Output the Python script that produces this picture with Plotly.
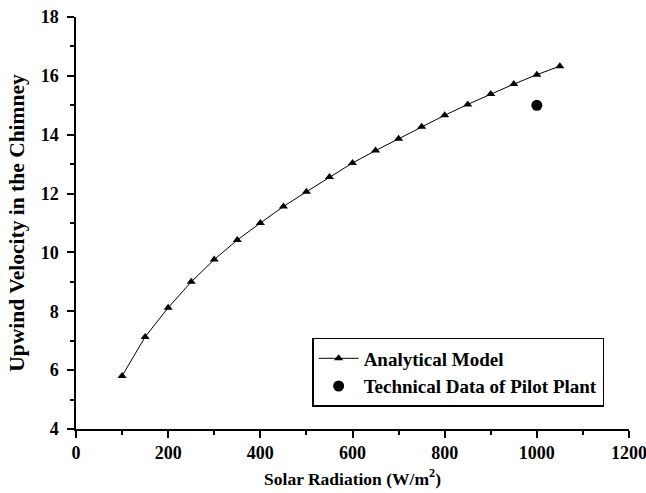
import plotly.graph_objects as go

radiation = [100, 150, 200, 250, 300, 350, 400, 450, 500, 550, 600, 650, 700,
             750, 800, 850, 900, 950, 1000, 1050]
velocity = [5.8, 7.13, 8.12, 9.0, 9.76, 10.42, 11.0, 11.56, 12.06, 12.56, 13.04,
            13.46, 13.86, 14.27, 14.66, 15.03, 15.38, 15.72, 16.04, 16.33]
pilot_x = [1000]
pilot_y = [15.0]

font_family = "Liberation Serif, Times New Roman, serif"

fig = go.Figure()
fig.add_trace(go.Scatter(
    x=radiation, y=velocity, mode="lines+markers", name="Analytical Model",
    line=dict(color="black", width=1),
    marker=dict(symbol="triangle-up", size=8, color="black"),
))
fig.add_trace(go.Scatter(
    x=pilot_x, y=pilot_y, mode="markers", name="Technical Data of Pilot Plant",
    marker=dict(symbol="circle", size=11, color="black"),
))

fig.update_layout(
    width=646, height=493,
    margin=dict(l=76, r=17, t=17, b=64),
    paper_bgcolor="white", plot_bgcolor="white",
    font=dict(family=font_family, color="black", size=17),
    showlegend=True,
    legend=dict(
        x=0.427, y=0.221, xanchor="left", yanchor="top",
        bordercolor="black", borderwidth=1.5, bgcolor="white",
        font=dict(family=font_family, size=19, color="black", weight="bold"),
        tracegroupgap=0, itemwidth=40,
    ),
)
fig.update_xaxes(
    range=[0, 1200], tick0=0, dtick=200, automargin=False,
    ticklabeloverflow="allow",
    showline=True, linecolor="black", linewidth=1.5,
    ticks="outside", ticklen=7, tickwidth=1.5, tickcolor="black",
    showgrid=False, zeroline=False,
    tickfont=dict(family=font_family, size=18, weight="bold"),
    minor=dict(dtick=100, ticks="outside", ticklen=4, tickwidth=1.5, tickcolor="black", showgrid=False),
    title=dict(text="Solar Radiation (W/m<sup>2</sup>)",
               font=dict(family=font_family, size=17.5, weight="bold"), standoff=10),
)
fig.update_yaxes(
    range=[4, 18], tick0=4, dtick=2, automargin=False,
    ticklabeloverflow="allow",
    showline=True, linecolor="black", linewidth=1.5,
    ticks="outside", ticklen=7, tickwidth=1.5, tickcolor="black",
    showgrid=False, zeroline=False, ticklabelstandoff=5,
    tickfont=dict(family=font_family, size=18, weight="bold"),
    minor=dict(dtick=1, ticks="outside", ticklen=4, tickwidth=1.5, tickcolor="black", showgrid=False),
    title=dict(text="Upwind Velocity in the Chimney",
               font=dict(family=font_family, size=21.5, weight="bold"), standoff=10),
)

fig.write_html("out.html")
